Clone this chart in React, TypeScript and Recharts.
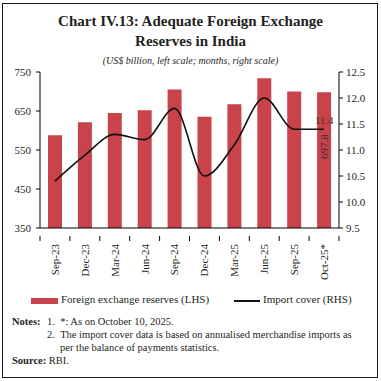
import React from 'react';
import { ComposedChart, Bar, Line, XAxis, YAxis, LabelList, Legend } from 'recharts';

const months = ['Sep-23', 'Dec-23', 'Mar-24', 'Jun-24', 'Sep-24', 'Dec-24', 'Mar-25', 'Jun-25', 'Sep-25', 'Oct-25*'];
const reserves = [588, 621, 645, 652, 705, 635, 667, 734, 700, 697.8];
const importCover = [10.4, 10.9, 11.3, 11.2, 11.8, 10.5, 11.1, 12.0, 11.4, 11.4];
const leftTicks = [350, 450, 550, 650, 750];
const rightTicks = [9.5, 10.0, 10.5, 11.0, 11.5, 12.0, 12.5];

const data = months.map((m, i) => ({ month: m, reserves: reserves[i], cover: importCover[i] }));

const RED = '#C8434A';
const FONT = '"Liberation Serif", "DejaVu Serif", serif';
const TXT = '#231f20';

const W = 381;
const H = 381;
const margin = { top: 72, right: 12, bottom: 97, left: 10 };
const Y_W = 30;
const PLOT_W = W - margin.left - margin.right - 2 * Y_W;
const STEP = PLOT_W / months.length;

const XTick = (props: any) => {
  const { x, y, payload, index } = props;
  const last = index === months.length - 1;
  return (
    <g transform={`translate(${x},${y})`}>
      <line x1={-STEP / 2} x2={-STEP / 2} y1={0} y2={5} stroke="#000" strokeWidth={1} />
      {last && <line x1={STEP / 2} x2={STEP / 2} y1={0} y2={5} stroke="#000" strokeWidth={1} />}
      <text transform="rotate(-90)" x={-8} y={0} dy="0.35em" textAnchor="end" fontSize={11} fill={TXT} fontFamily={FONT}>
        {payload.value}
      </text>
    </g>
  );
};

const BarValue = (props: any) => {
  const { x, y, width, height, index, value } = props;
  if (index !== months.length - 1) return null;
  const cx = x + width / 2;
  const cy = y + height * 0.4;
  return (
    <text transform={`translate(${cx},${cy}) rotate(-90)`} textAnchor="middle" dy="0.35em" fontSize={11} fill="#3a2a2a" fontFamily={FONT}>
      {value}
    </text>
  );
};

const LineValue = (props: any) => {
  const { x, y, index, value } = props;
  if (index !== months.length - 1) return null;
  return (
    <text x={x} y={y - 5} textAnchor="middle" fontSize={11} fill="#333" fontFamily={FONT}>
      {Number(value).toFixed(1)}
    </text>
  );
};

const LegendBox = () => (
  <div style={{ position: 'relative', height: 16, fontFamily: FONT, fontSize: 11, color: TXT }}>
    <div style={{ position: 'absolute', left: 31, top: 5, width: 27, height: 6, background: RED }} />
    <div style={{ position: 'absolute', left: 61, top: 0, whiteSpace: 'nowrap' }}>Foreign exchange reserves (LHS)</div>
    <div style={{ position: 'absolute', left: 234, top: 7, width: 26, height: 2, background: '#111' }} />
    <div style={{ position: 'absolute', left: 263, top: 0, whiteSpace: 'nowrap' }}>Import cover (RHS)</div>
  </div>
);

export default function App() {
  return (
    <div style={{ position: 'absolute', left: 0, top: 0, width: W, height: H, background: '#fff', fontFamily: FONT, color: TXT }}>
      <div style={{ position: 'absolute', left: 2, top: 3, width: 374, height: 373, border: '1.5px solid #1a1a1a' }} />
      <div style={{ position: 'absolute', left: 0, top: 11, width: W, textAlign: 'center', fontWeight: 'bold', fontSize: 15, lineHeight: '20px' }}>
        Chart IV.13: Adequate Foreign Exchange
        <br />
        Reserves in India
      </div>
      <div style={{ position: 'absolute', left: 0, top: 55, width: W, textAlign: 'center', fontStyle: 'italic', fontSize: 10 }}>
        (US$ billion, left scale; months, right scale)
      </div>
      <div style={{ position: 'absolute', left: 0, top: 0 }}>
        <ComposedChart width={W} height={H} data={data} margin={margin} barSize={14}>
          <XAxis
            dataKey="month"
            interval={0}
            tickLine={false}
            axisLine={{ stroke: '#000' }}
            tick={<XTick />}
            height={40}
          />
          <YAxis
            yAxisId="left"
            orientation="left"
            domain={[350, 750]}
            ticks={leftTicks}
            width={Y_W}
            tickSize={4}
            tickMargin={5}
            axisLine={{ stroke: '#000' }}
            tickLine={{ stroke: '#000' }}
            tick={{ fontSize: 11, fill: TXT, fontFamily: FONT }}
          />
          <YAxis
            yAxisId="right"
            orientation="right"
            domain={[9.5, 12.5]}
            ticks={rightTicks}
            width={Y_W}
            tickSize={4}
            tickMargin={3}
            axisLine={{ stroke: '#000' }}
            tickLine={{ stroke: '#000' }}
            tickFormatter={(v: number) => v.toFixed(1)}
            tick={{ fontSize: 11, fill: TXT, fontFamily: FONT }}
          />
          <Bar yAxisId="left" dataKey="reserves" fill={RED} isAnimationActive={false}>
            <LabelList dataKey="reserves" content={<BarValue />} />
          </Bar>
          <Line
            yAxisId="right"
            dataKey="cover"
            type="monotone"
            stroke="#111"
            strokeWidth={1.6}
            dot={false}
            isAnimationActive={false}
          >
            <LabelList dataKey="cover" content={<LineValue />} />
          </Line>
          <Legend content={<LegendBox />} wrapperStyle={{ position: 'absolute', left: 0, top: 293, width: W }} />
        </ComposedChart>
      </div>
      <div style={{ position: 'absolute', left: 12, top: 315, fontSize: 10.5, lineHeight: '13px', whiteSpace: 'nowrap' }}>
        <b>Notes:</b>
      </div>
      <div style={{ position: 'absolute', left: 12, top: 354, fontSize: 10.5, lineHeight: '13px', whiteSpace: 'nowrap' }}>
        <b>Source:</b> RBI.
      </div>
      <div style={{ position: 'absolute', left: 47, top: 315, fontSize: 10.5, lineHeight: '13px', whiteSpace: 'nowrap' }}>
        <div>1.&nbsp;&nbsp;*: As on October 10, 2025.</div>
        <div>2.&nbsp;&nbsp;The import cover data is based on annualised merchandise imports as</div>
        <div style={{ paddingLeft: 13 }}>per the balance of payments statistics.</div>
      </div>
    </div>
  );
}
